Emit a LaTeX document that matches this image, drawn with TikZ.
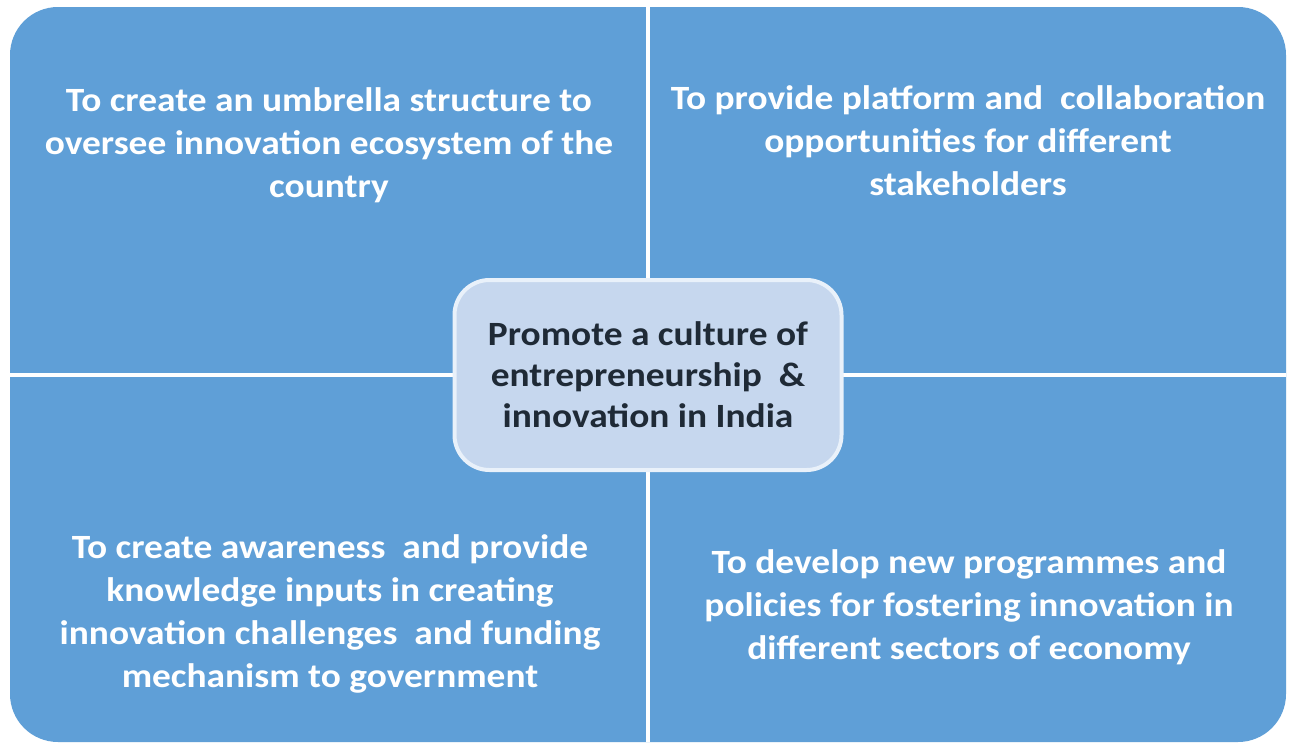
\documentclass[tikz,border=0pt]{standalone}
\usepackage{fontspec}
\setmainfont{Carlito}[FakeStretch=1.1]
\definecolor{quadblue}{HTML}{5F9FD7}
\definecolor{hubfill}{HTML}{C6D7EE}
\definecolor{hubline}{HTML}{E9F1FA}
\definecolor{hubtext}{HTML}{1F2A36}

\tikzset{
    goal/.style={align=center, text=white, inner sep=0pt,
        font=\fontsize{34}{43}\selectfont\bfseries},
    hub/.style={draw=hubline, line width=4pt, fill=hubfill, text=hubtext,
        rounded corners=35pt, align=center, inner sep=0pt,
        minimum width=387pt, minimum height=190pt,
        font=\fontsize{34}{41}\selectfont\bfseries},
    divider/.style={white, line width=4pt}
}

\begin{document}
\begin{tikzpicture}[x=1pt, y=-1pt]
    \useasboundingbox (0,0) rectangle (1294,744);
    \fill[white] (0,0) rectangle (1294,744);

    % Outer panel and the two dividers
    \fill[quadblue, rounded corners=48pt] (10,7) rectangle (1286,742);
    \coordinate (top) at (648,7);
    \coordinate (bottom) at (648,742);
    \coordinate (left) at (10,375);
    \coordinate (right) at (1286,375);
    \draw[divider] (top) -- (bottom);
    \draw[divider] (left) -- (right);

    % Quadrant texts
    \node[goal] (tl) at (329,145) {To create an umbrella structure to\\
        oversee innovation ecosystem of the\\ country};
    \node[goal] (tr) at (968,141) {To provide platform and\ \ collaboration\\
        opportunities for different\\ stakeholders};
    \node[goal] (bl) at (330,614) {To create awareness\ \ and provide\\
        knowledge inputs in creating\\
        innovation challenges\ \ and funding\\ mechanism to government};
    \node[goal] (br) at (969,607) {To develop new programmes and\\
        policies for fostering innovation in\\
        different sectors of economy};

    % Centre box
    \node[hub] (promote) at (648,375) {Promote a culture of\\
        entrepreneurship\ \ \&\\ innovation in India};
\end{tikzpicture}
\end{document}
